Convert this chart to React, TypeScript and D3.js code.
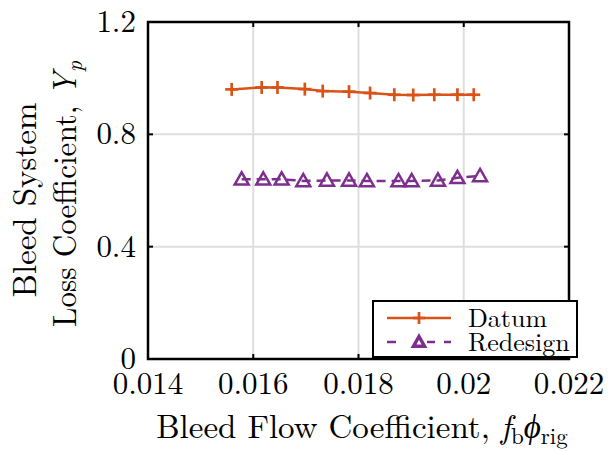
import React from "react";
import * as d3 from "d3";

const datumX = [0.01559, 0.01616, 0.01646, 0.01698, 0.01732, 0.01782, 0.01822, 0.01868, 0.01904, 0.01944, 0.01988, 0.02019];
const datumY = [0.960, 0.967, 0.967, 0.961, 0.954, 0.952, 0.947, 0.941, 0.940, 0.941, 0.941, 0.941];
const redesignX = [0.01578, 0.01619, 0.01654, 0.01695, 0.01740, 0.01782, 0.01816, 0.01876, 0.01901, 0.01951, 0.01988, 0.02031];
const redesignY = [0.640, 0.640, 0.640, 0.634, 0.636, 0.636, 0.634, 0.634, 0.634, 0.636, 0.645, 0.652];
const xTicks = [0.014, 0.016, 0.018, 0.02, 0.022];
const xTickLabels = ["0.014", "0.016", "0.018", "0.02", "0.022"];
const yTicks = [0, 0.4, 0.8, 1.2];
const yTickLabels = ["0", "0.4", "0.8", "1.2"];
const seriesNames = ["Datum", "Redesign"];

const W = 615, H = 451;
const L = 148, R = 569, T = 22, B = 359;
const FONT = "'Latin Modern Roman','CMU Serif','Liberation Serif',serif";
const C1 = "#D95319";
const C2 = "#7E2F8E";

function Plus({ x, y, s = 6.5, color }: { x: number; y: number; s?: number; color: string }) {
  return (
    <g stroke={color} strokeWidth={2.7}>
      <line x1={x - s} x2={x + s} y1={y} y2={y} />
      <line x1={x} x2={x} y1={y - s} y2={y + s} />
    </g>
  );
}
function Tri({ x, y, s = 7, color, sw = 2.5 }: { x: number; y: number; s?: number; color: string; sw?: number }) {
  const p = `${x},${y - s} ${x + s},${y + s * 0.75} ${x - s},${y + s * 0.75}`;
  return <polygon points={p} fill="none" stroke={color} strokeWidth={sw} strokeLinejoin="miter" />;
}

export default function App() {
  const x = d3.scaleLinear().domain([0.014, 0.022]).range([L, R]);
  const y = d3.scaleLinear().domain([0, 1.2]).range([B, T]);
  const line = d3.line<[number, number]>().x(d => x(d[0])).y(d => y(d[1]));
  const d1 = datumX.map((v, i) => [v, datumY[i]] as [number, number]);
  const d2 = redesignX.map((v, i) => [v, redesignY[i]] as [number, number]);
  const tickLen = 5;
  return (
    <svg width={W} height={H} style={{ position: "absolute", left: 0, top: 0 }} fontFamily={FONT}>
      <rect x={0} y={0} width={W} height={H} fill="white" />
      {xTicks.slice(1, -1).map(t => (
        <line key={"gx" + t} x1={x(t)} x2={x(t)} y1={T} y2={B} stroke="#dedede" strokeWidth={2} />
      ))}
      {yTicks.slice(1, -1).map(t => (
        <line key={"gy" + t} x1={L} x2={R} y1={y(t)} y2={y(t)} stroke="#dedede" strokeWidth={2} />
      ))}
      {xTicks.map(t => (
        <g key={"tx" + t}>
          <line x1={x(t)} x2={x(t)} y1={B} y2={B - tickLen} stroke="black" strokeWidth={2} />
          <line x1={x(t)} x2={x(t)} y1={T} y2={T + tickLen} stroke="black" strokeWidth={2} />
        </g>
      ))}
      {yTicks.map(t => (
        <g key={"ty" + t}>
          <line x1={L} x2={L + tickLen} y1={y(t)} y2={y(t)} stroke="black" strokeWidth={2} />
          <line x1={R} x2={R - tickLen} y1={y(t)} y2={y(t)} stroke="black" strokeWidth={2} />
        </g>
      ))}
      <path d={line(d1) || ""} fill="none" stroke={C1} strokeWidth={2.5} />
      {d1.map((d, i) => <Plus key={"p" + i} x={x(d[0])} y={y(d[1])} color={C1} />)}
      <path d={line(d2) || ""} fill="none" stroke={C2} strokeWidth={2.5} strokeDasharray="9,6" />
      {d2.map((d, i) => <Tri key={"t" + i} x={x(d[0])} y={y(d[1])} color={C2} />)}
      <rect x={L} y={T} width={R - L} height={B - T} fill="none" stroke="black" strokeWidth={2.5} />
      {xTicks.map((t, i) => (
        <text key={"xl" + t} x={x(t)} y={394} textAnchor="middle" fontSize={31}>{xTickLabels[i]}</text>
      ))}
      {yTicks.map((t, i) => (
        <text key={"yl" + t} x={136} y={y(t) + 10} textAnchor="end" fontSize={31}>{yTickLabels[i]}</text>
      ))}
      <text x={362} y={438} textAnchor="middle" fontSize={33}>
        Bleed Flow Coefficient, <tspan fontStyle="italic">f</tspan>
        <tspan fontSize={23} dy={6}>b</tspan>
        <tspan fontStyle="italic" dy={-6}>ϕ</tspan>
        <tspan fontSize={23} dy={6}>rig</tspan>
      </text>
      <g transform="translate(36,200) rotate(-90)">
        <text x={0} y={0} textAnchor="middle" fontSize={33}>Bleed System</text>
      </g>
      <g transform="translate(76,194) rotate(-90)">
        <text x={0} y={0} textAnchor="middle" fontSize={33} textLength={266} lengthAdjust="spacingAndGlyphs">
          Loss Coefficient, <tspan fontStyle="italic">Y</tspan>
          <tspan fontStyle="italic" fontSize={23} dy={6}>p</tspan>
        </text>
      </g>
      <rect x={373} y={301} width={204} height={56} fill="white" stroke="black" strokeWidth={2} />
      <line x1={387} x2={451} y1={318} y2={318} stroke={C1} strokeWidth={2.5} />
      <Plus x={419} y={318} s={6} color={C1} />
      <line x1={387} x2={451} y1={342} y2={342} stroke={C2} strokeWidth={2.5} strokeDasharray="9,16,0,15,8" />
      <Tri x={419} y={342} s={5.5} color={C2} sw={3.5} />
      <text x={468} y={327} fontSize={26}>{seriesNames[0]}</text>
      <text x={468} y={351} fontSize={26}>{seriesNames[1]}</text>
    </svg>
  );
}
